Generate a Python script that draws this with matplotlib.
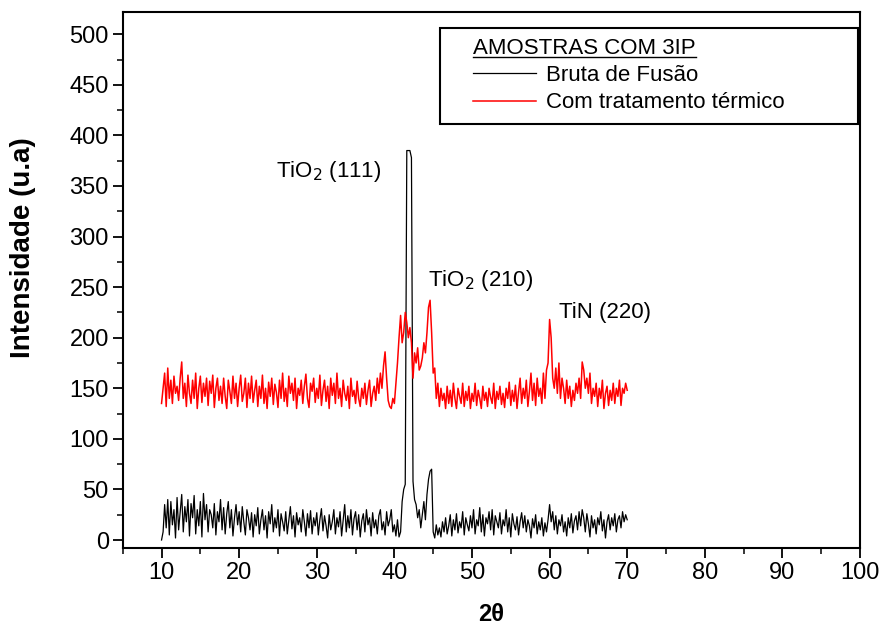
import numpy as np
import matplotlib
matplotlib.use('Agg')
import matplotlib.pyplot as plt
from matplotlib.ticker import MultipleLocator
from matplotlib.lines import Line2D
from matplotlib.patches import Rectangle

plt.rcParams['font.family'] = ['Liberation Sans', 'DejaVu Sans']

# 2theta from 10 to 70, step 0.2
two_theta = np.linspace(10, 70, 301)

# Bruta de Fusao (black)
bruta = [
    0, 8, 35, 12, 40, 5, 38, 15, 30, 2,
    42, 10, 28, 45, 8, 33, 18, 40, 4, 36,
    22, 44, 6, 30, 14, 38, 3, 46, 20, 35,
    8, 30, 25, 12, 36, 5, 28, 18, 40, 10,
    32, 6, 26, 38, 12, 30, 4, 22, 35, 15,
    28, 8, 33, 18, 5, 30, 22, 10, 27, 3,
    25, 14, 32, 6, 20, 30, 10, 24, 2, 28,
    16, 35, 8, 22, 12, 30, 4, 26, 18, 9,
    28, 6, 20, 33, 11, 24, 3, 27, 15, 22,
    8, 30, 18, 4, 26, 12, 29, 6, 22, 14,
    27, 5, 20, 31, 9, 24, 14, 2, 25, 10,
    18, 30, 6, 22, 13, 28, 4, 20, 35, 8,
    24, 12, 30, 5, 21, 28, 10, 25, 3, 19,
    26, 8, 30, 15, 22, 4, 27, 12, 20, 6,
    24, 30, 10, 18, 5, 28, 14, 20, 30, 8,
    15, 4, 20, 3, 8, 38, 50, 55, 385, 385,
    385, 378, 58, 40, 35, 22, 30, 12, 25, 38,
    20, 45, 60, 68, 70, 8, 2, 15, 5, 12,
    3, 18, 8, 22, 6, 14, 25, 4, 20, 10,
    26, 7, 18, 12, 28, 5, 22, 15, 9, 24,
    12, 30, 6, 20, 14, 32, 8, 25, 4, 22,
    16, 28, 10, 30, 5, 24, 18, 12, 27, 6,
    20, 14, 30, 8, 22, 3, 26, 16, 10, 23,
    5, 18, 27, 12, 24, 8, 20, 14, 2, 21,
    12, 25, 6, 18, 10, 22, 4, 17, 8, 20,
    35, 18, 28, 10, 24, 6, 20, 14, 25, 8,
    18, 4, 22, 12, 26, 7, 19, 24, 10, 28,
    14, 30, 22, 8, 26, 16, 3, 24, 12, 20,
    6, 22, 15, 28, 9, 20, 2, 18, 25, 10,
    22, 14, 26, 8, 20, 24, 12, 28, 18, 25,
    20,
]

# Com tratamento termico (red)
tratado = [
    135, 150, 165, 132, 170, 140, 158, 135, 162, 145,
    152, 138, 160, 176, 140, 155, 132, 163, 145, 135,
    158, 140, 165, 130, 150, 162, 136, 155, 142, 160,
    133, 157, 145, 163, 131, 150, 160, 138, 152, 135,
    160, 142, 130, 158, 147, 135, 162, 140, 155, 132,
    150, 163, 137, 145, 160, 131, 155, 140, 162, 136,
    148, 158, 132, 152, 140, 163, 135, 150, 130, 156,
    142, 160, 134, 154, 146, 131, 158, 140, 165, 137,
    150, 132, 162, 145, 155, 138, 160, 130, 150, 143,
    158, 135, 152, 164, 140, 131, 155, 147, 160, 136,
    150, 140, 163, 133, 148, 158, 137, 152, 130, 160,
    143, 155, 135, 165, 140, 150, 132, 158, 145, 138,
    152, 130, 160, 142, 148, 135, 157, 140, 132, 150,
    140, 155, 134, 148, 158, 132, 145, 152, 138, 160,
    145, 165, 150, 172, 186, 160, 138, 132, 130, 140,
    135, 155, 175, 200, 222, 195, 205, 225, 215, 200,
    210, 195, 160, 185, 175, 190, 168, 172, 180, 195,
    185, 205, 230, 237, 205, 165, 170, 140, 155, 132,
    150, 138, 145, 130, 152, 135, 148, 132, 155, 140,
    130, 150, 142, 135, 155, 132, 147, 138, 152, 130,
    145, 137, 155, 133, 148, 140, 130, 152, 138, 146,
    132, 150, 141, 135, 155, 130, 147, 139, 152, 134,
    145, 131, 150, 140, 156, 133, 148, 137, 153, 130,
    146, 160, 135, 150, 140, 158, 132, 147, 165, 138,
    155, 133, 160, 142, 150, 135, 165, 140, 168, 175,
    218, 200, 160, 150, 170, 145, 175, 140, 160, 150,
    135, 158, 140, 152, 132, 148, 138, 155, 145, 160,
    140, 176, 168, 150, 160, 145, 165, 135, 150, 142,
    155, 132, 150, 140, 158, 130, 145, 152, 133, 148,
    138, 155, 135, 150, 142, 158, 133, 150, 145, 155,
    148,
]

peak_labels = ['TiO$_2$ (111)', 'TiO$_2$ (210)', 'TiN (220)']
peak_pos = [(24.7, 359), (44.3, 251), (61.2, 219)]

fig = plt.figure(figsize=(8.83, 6.3), dpi=100)
ax = fig.add_axes([0.139, 0.130, 0.835, 0.851])

ax.plot(two_theta, bruta, color='black', lw=0.9, label='Bruta de Fusão')
ax.plot(two_theta, tratado, color='red', lw=1.1, label='Com tratamento térmico')

for txt, (px, py) in zip(peak_labels, peak_pos):
    ax.text(px, py, txt, fontsize=16, ha='left', va='baseline')

ax.set_xlim(5, 100)
ax.set_ylim(-8, 522)
ax.xaxis.set_minor_locator(MultipleLocator(5))
ax.yaxis.set_minor_locator(MultipleLocator(25))
ax.set_xticks(np.arange(10, 101, 10))
ax.set_yticks(np.arange(0, 501, 50))
ax.tick_params(which='major', direction='out', length=7, width=1.3, labelsize=17, pad=3)
ax.tick_params(which='minor', direction='out', length=4, width=1.1)
for s in ax.spines.values():
    s.set_linewidth(1.5)

ax.set_xlabel('2θ', fontsize=17, fontweight='bold', labelpad=14)
ax.set_ylabel('Intensidade (u.a)', fontsize=20, fontweight='bold')
ax.yaxis.set_label_coords(-0.118, 0.56)

leg = ax.legend(loc='upper left', bbox_to_anchor=(0.468, 0.962), borderaxespad=0,
                title='AMOSTRAS COM 3IP', fontsize=16, title_fontsize=16,
                frameon=False, handlelength=2.8, borderpad=0.25,
                labelspacing=0.28, handletextpad=0.45)
leg._legend_box.align = 'left'

# legend frame
ax.add_patch(Rectangle((0.430, 0.791), 0.567, 0.179, transform=ax.transAxes,
                       fill=False, edgecolor='black', lw=1.5, zorder=5))

# underline the legend title
fig.canvas.draw()
bb = leg.get_title().get_window_extent().transformed(fig.transFigure.inverted())
fig.add_artist(Line2D([bb.x0, bb.x1], [bb.y0 + 0.003, bb.y0 + 0.003], color='black', lw=1.0,
                      transform=fig.transFigure))

fig.savefig('out.png', dpi=100)
